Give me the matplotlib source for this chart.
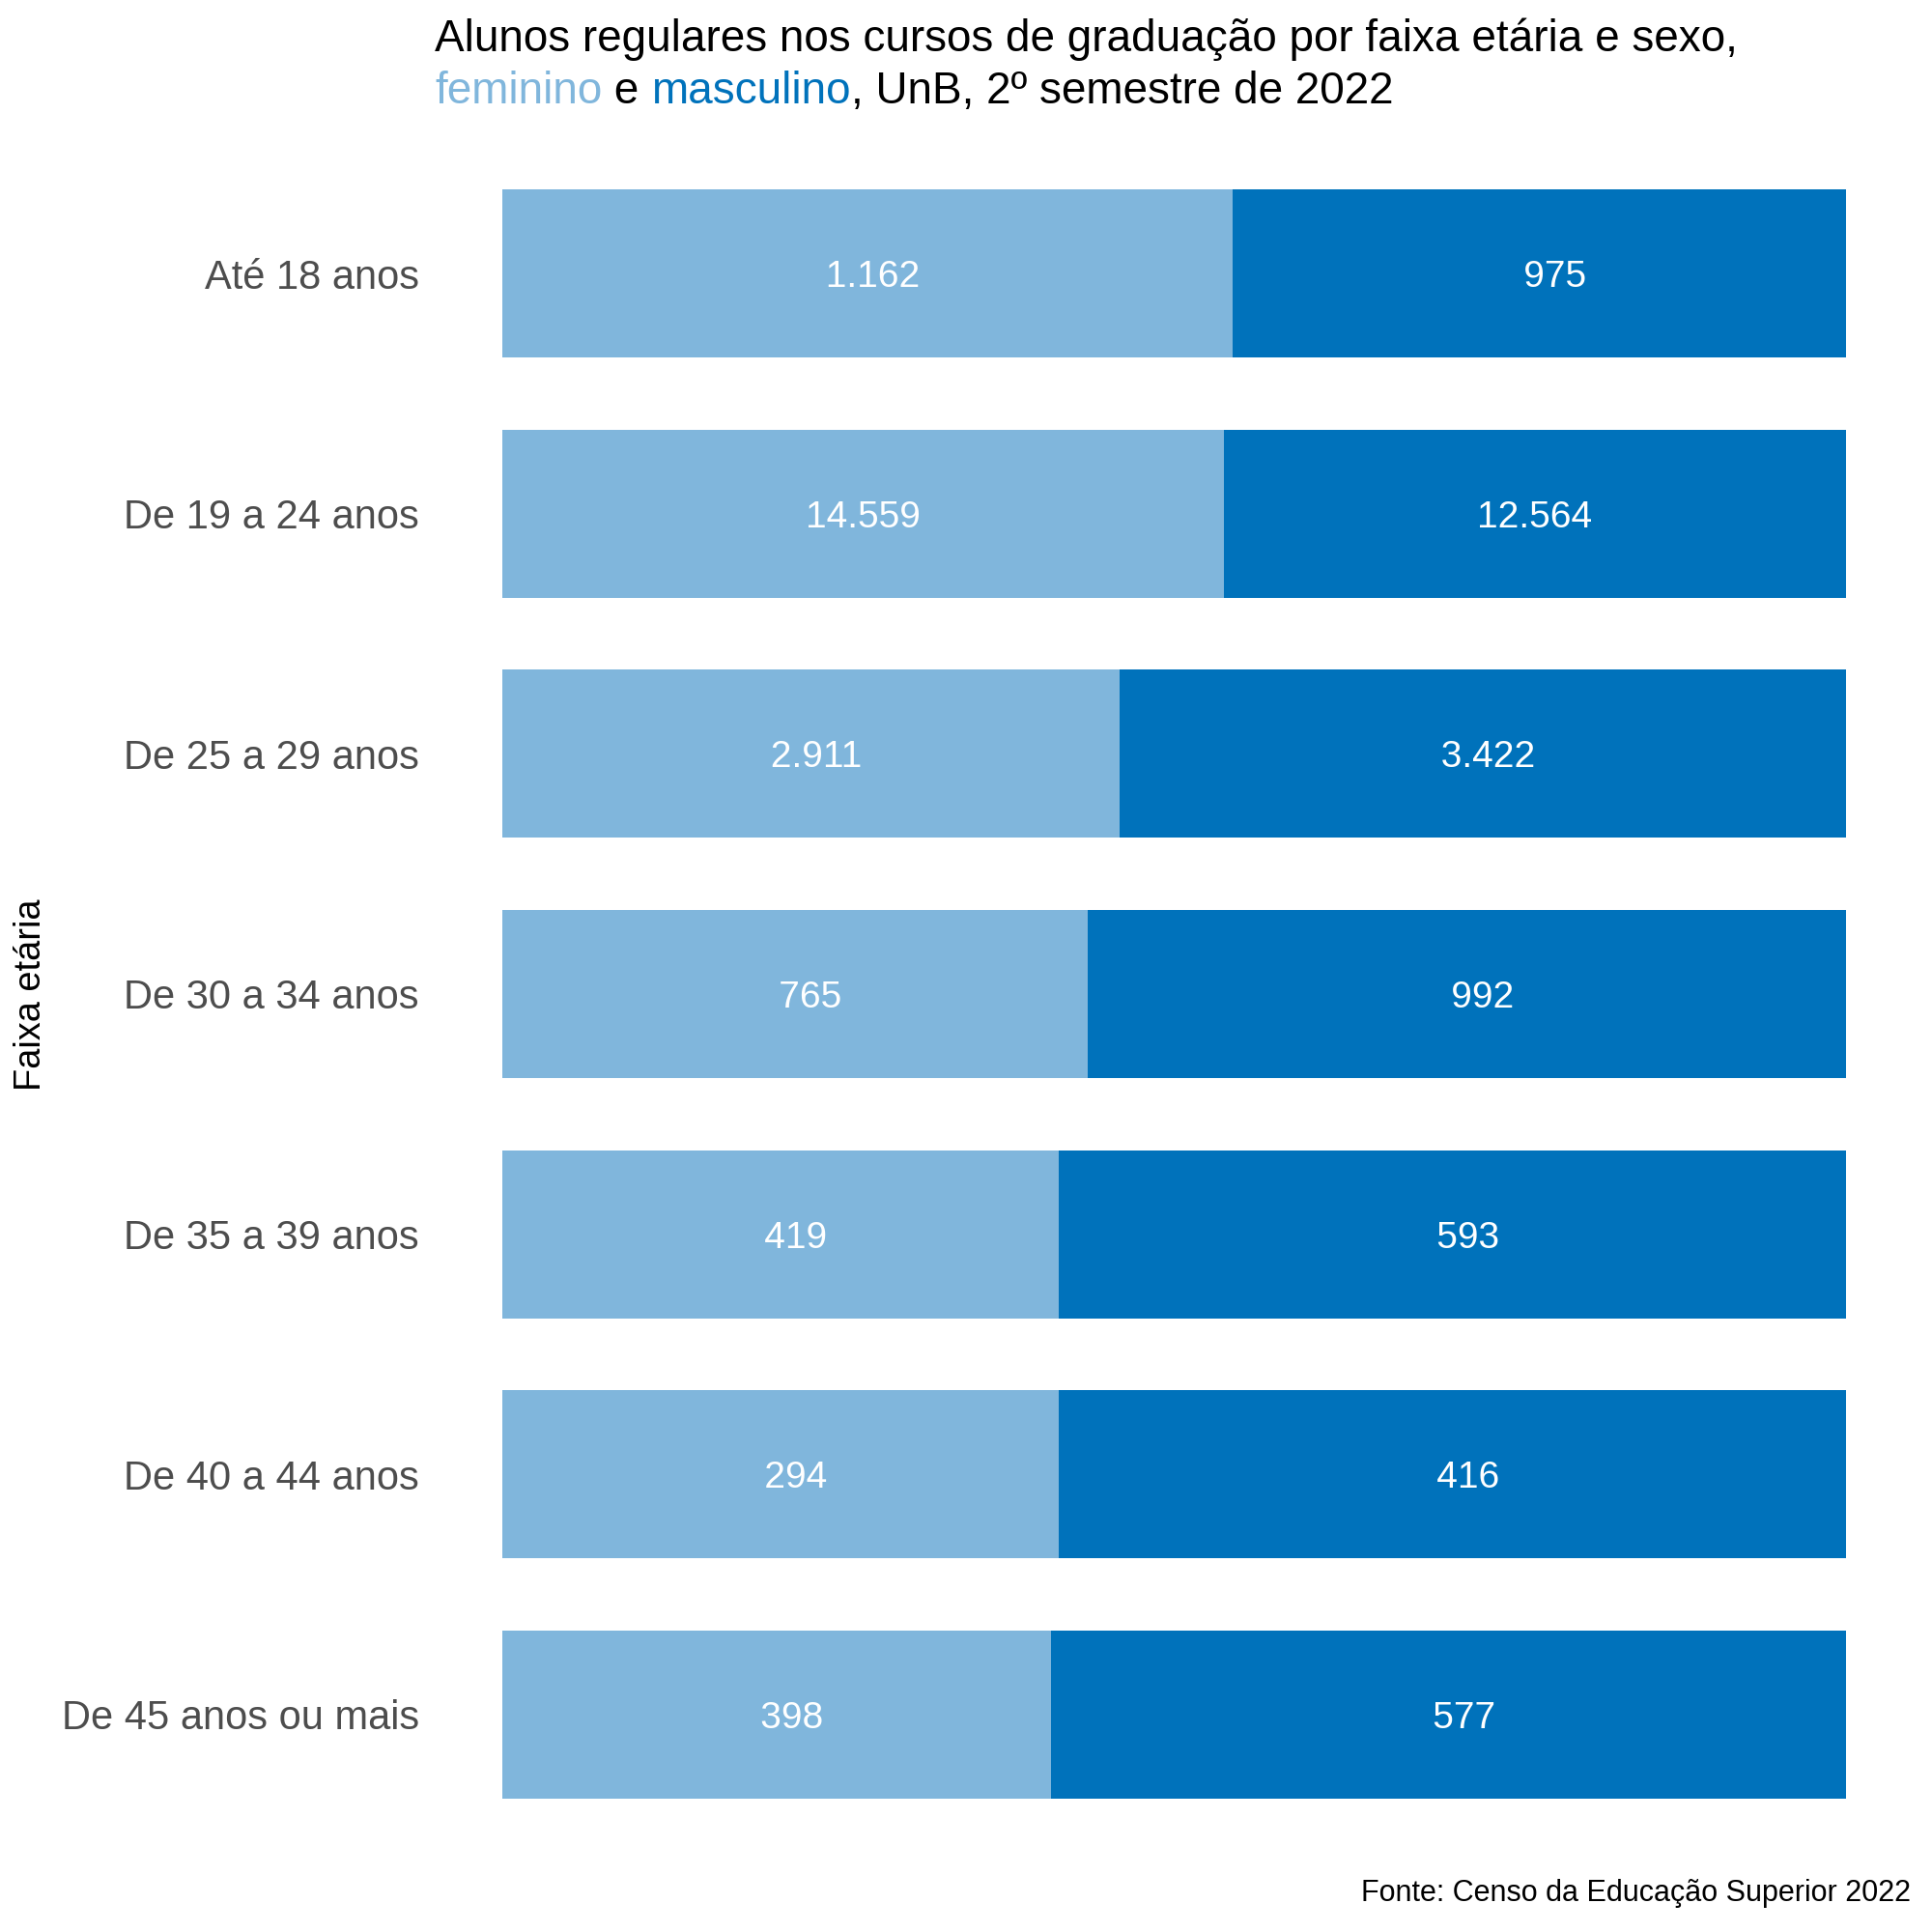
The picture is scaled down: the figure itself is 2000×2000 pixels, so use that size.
import matplotlib.pyplot as plt
import numpy as np

plt.rcParams['font.family'] = ['Liberation Sans', 'DejaVu Sans']

# dados
faixas = ['Até 18 anos', 'De 19 a 24 anos', 'De 25 a 29 anos', 'De 30 a 34 anos',
          'De 35 a 39 anos', 'De 40 a 44 anos', 'De 45 anos ou mais']
feminino = [1162, 14559, 2911, 765, 419, 294, 398]
masculino = [975, 12564, 3422, 992, 593, 416, 577]

cor_fem = '#80B6DC'
cor_masc = '#0072BB'


def fmt(v):
    # separador de milhar com ponto, alinhado a direita (largura comum)
    return f'{v:,}'.replace(',', '.').rjust(6)


fem = np.array(feminino, dtype=float)
masc = np.array(masculino, dtype=float)
total = fem + masc
p_fem = fem / total
p_masc = masc / total

fig = plt.figure(figsize=(10, 10), dpi=200)
ax = fig.add_axes([0.26, 0.069, 0.6955, 0.833])

y = np.arange(len(faixas))
ax.barh(y, p_fem, height=0.7, color=cor_fem)
ax.barh(y, p_masc, left=p_fem, height=0.7, color=cor_masc)

for i in range(len(faixas)):
    ax.text(p_fem[i] / 2, y[i], fmt(feminino[i]), ha='center', va='center_baseline',
            color='white', fontsize=14)
    ax.text(p_fem[i] + p_masc[i] / 2, y[i], fmt(masculino[i]), ha='center',
            va='center_baseline', color='white', fontsize=14)

ax.set_xlim(0, 1)
ax.set_ylim(len(faixas) - 0.65, -0.35)
ax.set_yticks(y)
ax.set_yticklabels(faixas, fontsize=15, color='#4D4D4D')
ax.tick_params(axis='y', length=0, pad=31)
ax.set_xticks([])
for s in ax.spines.values():
    s.set_visible(False)

fig.text(0.016, 0.485, 'Faixa etária', rotation=90, ha='center', va='center',
         fontsize=13.7, color='black')

# titulo em duas linhas, com palavras coloridas
fig.text(0.225, 0.9795, 'Alunos regulares nos cursos de graduação por faixa etária e sexo,',
         fontsize=16.5, ha='left', va='center', color='black')
t1 = fig.text(0.225, 0.9525, 'feminino', fontsize=16.5, ha='left', va='center', color=cor_fem)
t2 = ax.annotate(' e ', xy=(1, 0), xycoords=t1, va='bottom', ha='left',
                 fontsize=16.5, color='black', annotation_clip=False)
t3 = ax.annotate('masculino', xy=(1, 0), xycoords=t2, va='bottom', ha='left',
                 fontsize=16.5, color=cor_masc, annotation_clip=False)
ax.annotate(', UnB, 2º semestre de 2022', xy=(1, 0), xycoords=t3, va='bottom',
            ha='left', fontsize=16.5, color='black', annotation_clip=False)

fig.text(0.989, 0.02, 'Fonte: Censo da Educação Superior 2022', fontsize=11,
         ha='right', va='center', color='black')

fig.savefig('out.png', dpi=200, facecolor='white')
